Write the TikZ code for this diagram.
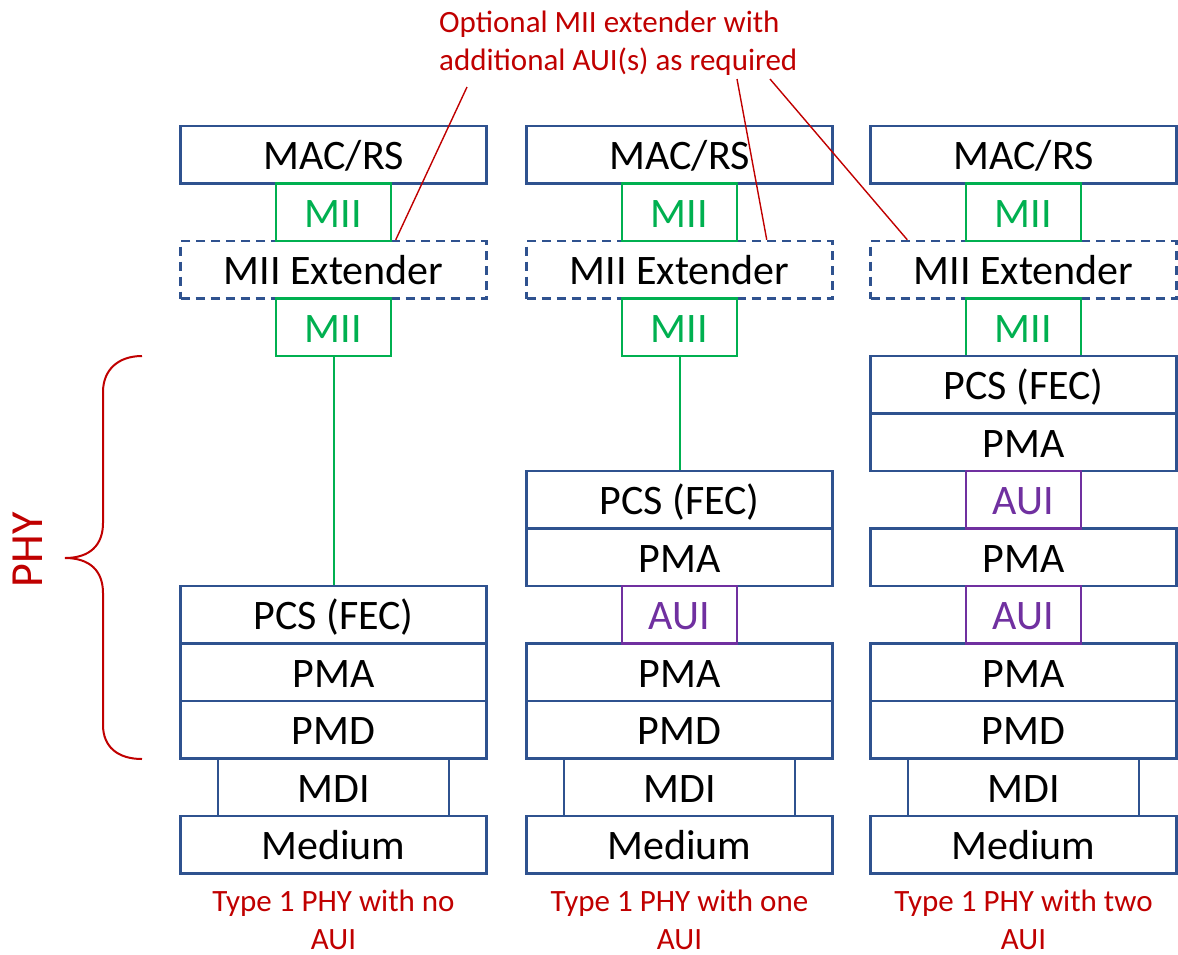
\documentclass[tikz,border=0pt]{standalone}
\usepackage{fontspec}
\setmainfont{Carlito}
\usetikzlibrary{calc}
\definecolor{layerblue}{HTML}{2F528F}
\definecolor{miigreen}{HTML}{00B050}
\definecolor{auipurple}{HTML}{7030A0}
\definecolor{notered}{HTML}{C00000}

\tikzset{
  layer/.style={draw=layerblue, line width=2.5pt, fill=white,
    minimum width=306pt, minimum height=57.5pt, inner sep=0pt,
    text height=30pt, text depth=0pt, font=\fontsize{42}{50}\selectfont},
  ext/.style={layer, fill=none, dash pattern=on 9pt off 6pt},
  mdi/.style={layer, minimum width=231pt},
  mii/.style={layer, draw=miigreen, text=miigreen, minimum width=115pt},
  aui/.style={mii, draw=auipurple, text=auipurple},
  miilink/.style={color=miigreen, line width=2pt},
  callout/.style={color=notered, line width=1.4pt},
  caption/.style={text=notered, align=center, inner sep=0pt,
    font=\fontsize{31}{38}\selectfont},
}

\begin{document}
\begin{tikzpicture}[x=1pt, y=-1pt]
\useasboundingbox (0,0) rectangle (1178,954);

% ---- stack 1: no AUI ----
\node[layer] (c1mac) at (333.5,154.75) {MAC/RS};
\node[ext]   (c1ext) at (333.5,269.75) {MII Extender};
\node[mii]   (c1mii1) at (333.5,212.25) {MII};
\node[mii]   (c1mii2) at (333.5,327.25) {MII};
\node[layer] (c1pcs) at (333.5,614.75) {PCS (FEC)};
\node[layer] (c1pma) at (333.5,672.25) {PMA};
\node[layer] (c1pmd) at (333.5,729.75) {PMD};
\node[mdi]   (c1mdi) at (333.5,787.25) {MDI};
\node[layer] (c1med) at (333.5,844.75) {Medium};
\draw[miilink] (c1mii2.south) -- (c1pcs.north);
\node[caption, anchor=base] (c1cap) at (333.5,949) {Type 1 PHY with no\\AUI};

% ---- stack 2: one AUI ----
\node[layer] (c2mac) at (679.5,154.75) {MAC/RS};
\node[ext]   (c2ext) at (679.5,269.75) {MII Extender};
\node[mii]   (c2mii1) at (679.5,212.25) {MII};
\node[mii]   (c2mii2) at (679.5,327.25) {MII};
\node[layer] (c2pcs) at (679.5,499.75) {PCS (FEC)};
\node[layer] (c2pmaa) at (679.5,557.25) {PMA};
\node[layer] (c2pmab) at (679.5,672.25) {PMA};
\node[aui]   (c2aui) at (679.5,614.75) {AUI};
\node[layer] (c2pmd) at (679.5,729.75) {PMD};
\node[mdi]   (c2mdi) at (679.5,787.25) {MDI};
\node[layer] (c2med) at (679.5,844.75) {Medium};
\draw[miilink] (c2mii2.south) -- (c2pcs.north);
\node[caption, anchor=base] (c2cap) at (679.5,949) {Type 1 PHY with one\\AUI};

% ---- stack 3: two AUIs ----
\node[layer] (c3mac) at (1023.5,154.75) {MAC/RS};
\node[ext]   (c3ext) at (1023.5,269.75) {MII Extender};
\node[mii]   (c3mii1) at (1023.5,212.25) {MII};
\node[mii]   (c3mii2) at (1023.5,327.25) {MII};
\node[layer] (c3pcs) at (1023.5,384.75) {PCS (FEC)};
\node[layer] (c3pmaa) at (1023.5,442.25) {PMA};
\node[layer] (c3pmab) at (1023.5,557.25) {PMA};
\node[layer] (c3pmac) at (1023.5,672.25) {PMA};
\node[aui]   (c3auia) at (1023.5,499.75) {AUI};
\node[aui]   (c3auib) at (1023.5,614.75) {AUI};
\node[layer] (c3pmd) at (1023.5,729.75) {PMD};
\node[mdi]   (c3mdi) at (1023.5,787.25) {MDI};
\node[layer] (c3med) at (1023.5,844.75) {Medium};
\node[caption, anchor=base] (c3cap) at (1023.5,949) {Type 1 PHY with two\\AUI};

% ---- PHY brace ----
\draw[notered, line width=2pt]
  (142,356) .. controls (118,356) and (103,370) .. (103,392)
  -- (103,523) .. controls (103,545) and (90,558) .. (65,558)
  .. controls (90,558) and (103,571) .. (103,593)
  -- (103,725) .. controls (103,747) and (118,759) .. (142,759);
\node[rotate=90, anchor=base, text=notered, inner sep=0pt,
      font=\fontsize{46}{55}\selectfont] (phy) at (42,550) {PHY};

% ---- note on the optional extender ----
\node[anchor=base west, align=left, text=notered, inner sep=0pt,
      font=\fontsize{31}{38}\selectfont] (note) at (439,70)
  {Optional MII extender with\\additional AUI(s) as required};
\coordinate (n1) at (467,87);
\coordinate (n2) at (737,79);
\coordinate (n3) at (770,79);
\draw[callout] (n1) -- ($(c1ext.north west)+(216.5,0)$);
\draw[callout] (n2) -- ($(c2ext.north west)+(241.5,0)$);
\draw[callout] (n3) -- ($(c3ext.north west)+(38,0)$);
\end{tikzpicture}
\end{document}
